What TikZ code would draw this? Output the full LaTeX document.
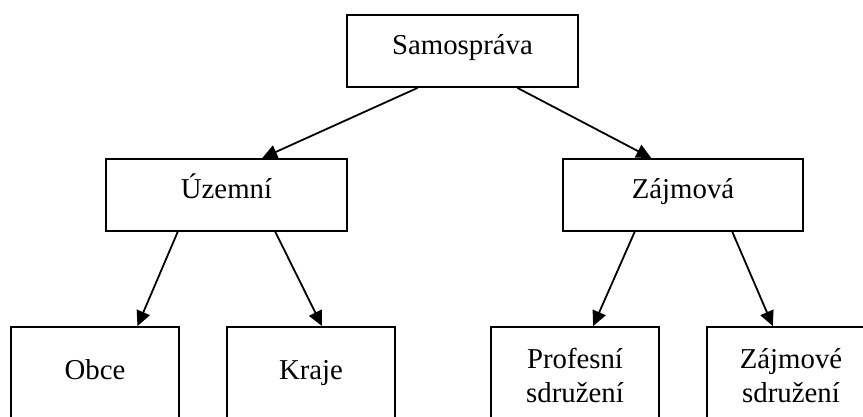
\documentclass[tikz,border=0pt]{standalone}
\usepackage{fontspec}
\setmainfont{Liberation Serif}
\usetikzlibrary{arrows.meta,calc}
\newcommand{\boxfont}{\fontsize{28.8pt}{34pt}\selectfont}
\begin{document}
\begin{tikzpicture}[x=1pt,y=-1pt,
  box/.style={draw,line width=1.8pt,rectangle,inner sep=0pt,align=center,
    font=\boxfont},
  oneline/.style={text height=0.85em,text depth=0.22em},
  conn/.style={line width=1.8pt,-{Triangle[length=15pt,width=14pt]}}]
\useasboundingbox (0,0) rectangle (863,417);
\clip (0,0) rectangle (863,417);
\node[box,oneline,minimum width=231pt,minimum height=72pt] (samo) at (462.5,51) {Samospráva};
\node[box,oneline,minimum width=241pt,minimum height=72pt] (uz) at (226.5,195) {Územní};
\node[box,oneline,minimum width=240pt,minimum height=72pt] (za) at (683,195) {Zájmová};
\node[box,oneline,minimum width=168pt,minimum height=98pt] (obce) at (95,376) {Obce};
\node[box,oneline,minimum width=168pt,minimum height=98pt] (kraje) at (311,376) {Kraje};
\node[box,minimum width=168pt,minimum height=98pt] (prof) at (575,376) {Profesní\\sdružení};
\node[box,minimum width=168pt,minimum height=98pt] (zsd) at (791,376) {Zájmové\\sdružení};
\draw[conn] ($(samo.south west)!0.307!(samo.south east)$) -- ($(uz.north west)!0.647!(uz.north east)$);
\draw[conn] ($(samo.south west)!0.736!(samo.south east)$) -- ($(za.north west)!0.369!(za.north east)$);
\draw[conn] ($(uz.south west)!0.299!(uz.south east)$) -- ($(obce.north west)!0.75!(obce.north east)$);
\draw[conn] ($(uz.south west)!0.701!(uz.south east)$) -- ($(kraje.north west)!0.565!(kraje.north east)$);
\draw[conn] ($(za.south west)!0.3!(za.south east)$) -- ($(prof.north west)!0.607!(prof.north east)$);
\draw[conn] ($(za.south west)!0.704!(za.south east)$) -- ($(zsd.north west)!0.393!(zsd.north east)$);
\end{tikzpicture}
\end{document}
